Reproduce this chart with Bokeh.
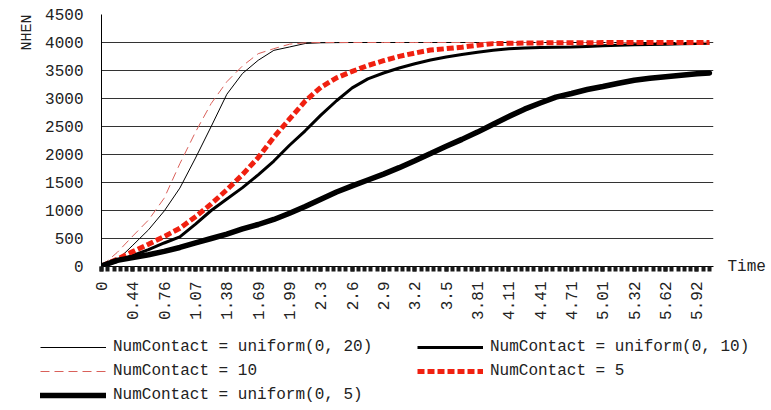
import math
from bokeh.plotting import figure
from bokeh.layouts import column
from bokeh.models import Range1d, FixedTicker, Legend, LegendItem, LinearAxis, Title
from bokeh.embed import file_html
from bokeh.resources import INLINE

# category-axis positions (in label units) and tick labels
pos = [0.0, 0.5, 1.0, 1.5, 2.0, 2.5, 3.0, 3.5, 4.0, 4.5, 5.0, 5.5, 6.0, 6.5, 7.0, 7.5,
       8.0, 8.5, 9.0, 9.5, 10.0, 10.5, 11.0, 11.5, 12.0, 12.5, 13.0, 13.5, 14.0, 14.5,
       15.0, 15.5, 16.0, 16.5, 17.0, 17.5, 18.0, 18.5, 19.0, 19.4]
tick_labels = ["0", "0.44", "0.76", "1.07", "1.38", "1.69", "1.99", "2.3", "2.6", "2.9",
               "3.2", "3.5", "3.81", "4.11", "4.41", "4.71", "5.01", "5.32", "5.62", "5.92"]
y_ticks = [0, 500, 1000, 1500, 2000, 2500, 3000, 3500, 4000, 4500]

u20 = [20, 110, 380, 655, 990, 1400, 1937, 2500, 3076, 3447,
       3682, 3860, 3920, 3982, 3995, 3998, 4000, 4000, 4000, 4000,
       4000, 4000, 4000, 4000, 4000, 4000, 4000, 4000, 4000, 4000,
       4000, 4000, 4000, 4000, 4000, 4000, 4000, 4000, 4000, 4000]
u10 = [10, 90, 200, 300, 420, 530, 757, 1000, 1205, 1408,
       1637, 1883, 2165, 2423, 2704, 2960, 3190, 3350, 3455, 3545,
       3620, 3688, 3742, 3785, 3826, 3860, 3890, 3902, 3910, 3915,
       3920, 3930, 3940, 3950, 3960, 3965, 3970, 3978, 3984, 3988]
c10 = [10, 250, 545, 830, 1220, 1836, 2402, 2911, 3300, 3582,
       3800, 3890, 3970, 3995, 4000, 4000, 4000, 4000, 4000, 4000,
       4000, 4000, 4000, 4000, 4000, 4000, 4000, 4000, 4000, 4000,
       4000, 4000, 4000, 4000, 4000, 4000, 4000, 4000, 4000, 4000]
c5 = [10, 130, 267, 398, 535, 683, 890, 1116, 1371, 1641,
      1945, 2309, 2634, 2954, 3200, 3369, 3484, 3589, 3675, 3753,
      3812, 3865, 3890, 3917, 3951, 3980, 3986, 3990, 3993, 3995,
      3996, 3997, 3998, 3998, 3999, 3999, 4000, 4000, 4000, 4000]
u5 = [10, 110, 160, 210, 270, 340, 420, 500, 580, 670,
      750, 840, 950, 1070, 1200, 1330, 1440, 1545, 1650, 1765,
      1890, 2018, 2147, 2270, 2400, 2540, 2680, 2810, 2920, 3025,
      3090, 3160, 3215, 3272, 3327, 3360, 3390, 3416, 3440, 3455]

series_labels = ["NumContact = uniform(0, 20)", "NumContact = uniform(0, 10)",
                 "NumContact = 10", "NumContact = 5", "NumContact = uniform(0, 5)"]

FONT = "Liberation Mono"
TXT = "#222222"
STYLES = [
    dict(line_color="black", line_width=1),
    dict(line_color="black", line_width=3),
    dict(line_color="#d9605a", line_width=1, line_dash="9 5"),
    dict(line_color="#f02010", line_width=5, line_dash="7 3"),
    dict(line_color="black", line_width=5.5, line_cap="round"),
]
series = [u20, u10, c10, c5, u5]

p = figure(width=768, height=322, output_backend="svg", toolbar_location=None,
           x_range=Range1d(0, 19.53), y_range=Range1d(0, 4500),
           min_border_left=101, min_border_right=44, min_border_top=14, min_border_bottom=55)
p.outline_line_color = None
p.background_fill_color = "white"
p.border_fill_color = "white"

# y axis
p.yaxis.ticker = FixedTicker(ticks=y_ticks)
p.yaxis.major_tick_out = 0
p.yaxis.major_tick_in = 0
p.yaxis.minor_tick_out = 0
p.yaxis.minor_tick_in = 0
p.yaxis.axis_line_color = "black"
p.yaxis.major_label_standoff = 18
p.yaxis.major_label_text_font = FONT
p.yaxis.major_label_text_font_size = "16px"
p.yaxis.major_label_text_color = TXT

p.ygrid.ticker = FixedTicker(ticks=y_ticks[1:])
p.ygrid.grid_line_color = "#333333"
p.ygrid.grid_line_width = 1
p.xgrid.grid_line_color = None

# x axis (category style)
p.xaxis.ticker = FixedTicker(ticks=list(range(len(tick_labels))),
                             minor_ticks=[i * 0.2 for i in range(98)])
p.xaxis.major_label_overrides = {i: t for i, t in enumerate(tick_labels)}
p.xaxis.major_label_orientation = math.pi / 2
p.xaxis.major_label_text_font = FONT
p.xaxis.major_label_text_font_size = "16px"
p.xaxis.major_label_text_color = TXT
p.xaxis.major_label_standoff = 10
for attr in ("major", "minor"):
    setattr(p.xaxis, f"{attr}_tick_line_width", 4)
    setattr(p.xaxis, f"{attr}_tick_line_color", "#1a1a1a")
    setattr(p.xaxis, f"{attr}_tick_out", 5)
    setattr(p.xaxis, f"{attr}_tick_in", 0)
p.xaxis.axis_line_color = "black"

# "Time" caption to the right of the x axis
time_axis = LinearAxis(ticker=FixedTicker(ticks=[0]), major_label_overrides={0: "Time"})
time_axis.axis_line_color = None
time_axis.major_tick_line_color = None
time_axis.minor_tick_line_color = None
time_axis.major_label_standoff = 8
time_axis.major_label_text_font = FONT
time_axis.major_label_text_font_size = "16px"
time_axis.major_label_text_color = TXT
p.add_layout(time_axis, "right")

# "NHEN" caption at the top of the y axis
p.add_layout(Title(text="NHEN", align="right", standoff=14, text_font=FONT,
                   text_font_size="15px", text_font_style="normal", text_color=TXT), "left")

for ys, st in zip(series, STYLES):
    p.line(pos, ys, **st)

# legend strip below the chart (its proxies use the same data, scrolled out of view)
lg = figure(width=768, height=86, output_backend="svg", toolbar_location=None,
            x_range=Range1d(100, 101), y_range=Range1d(0, 1),
            min_border_left=0, min_border_right=0, min_border_top=0, min_border_bottom=0)
lg.axis.visible = False
lg.grid.visible = False
lg.outline_line_color = None
lg.background_fill_color = "white"
lg.border_fill_color = "white"
for fig in (p, lg):
    if "frame_align" in fig.properties():
        fig.frame_align = False

proxies = []
for ys, st in zip(series, STYLES):
    proxies.append(lg.line(pos, ys, **st))
items = [LegendItem(label=lab, renderers=[r]) for lab, r in zip(series_labels, proxies)]
# column-major fill: first column u20, 10, u5 ; second column u10, 5
ordered = [items[0], items[2], items[4], items[1], items[3]]

legend = Legend(items=ordered, ncols=2, location=(40, 1))
legend.glyph_width = 66
legend.glyph_height = 24
legend.label_height = 24
legend.label_width = 304
legend.label_standoff = 7
legend.spacing = 0
legend.padding = 0
legend.margin = 0
legend.border_line_color = None
legend.background_fill_alpha = 0
legend.label_text_font = FONT
legend.label_text_font_size = "16px"
legend.label_text_color = TXT
lg.add_layout(legend, "center")

layout = column(p, lg, spacing=0)
open("out.html", "w").write(file_html(layout, INLINE))
